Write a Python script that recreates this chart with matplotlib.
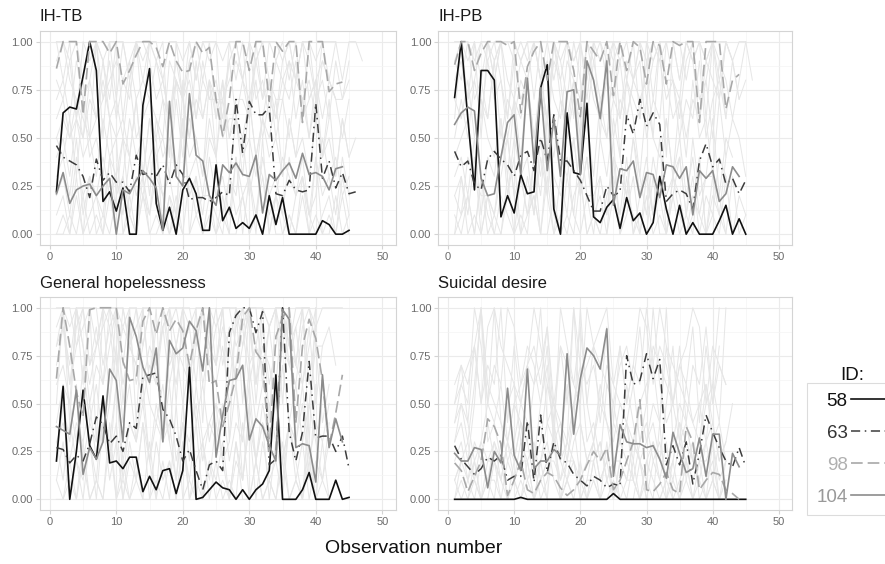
import matplotlib
matplotlib.use("Agg")
import matplotlib.pyplot as plt
from matplotlib.lines import Line2D
import numpy as np

plt.rcParams["font.family"] = ["Liberation Sans", "DejaVu Sans"]

# ── Highlighted participants ─────────────────────────────────────────────────
IDS = ["58", "63", "98", "104"]

TB_58 = [0.22, 0.63, 0.66, 0.65, 0.82, 1.0, 0.85, 0.17, 0.22, 0.12, 0.24, 0.0, 0.0, 0.67, 0.86,
         0.16, 0.02, 0.14, 0.0, 0.23, 0.29, 0.21, 0.02, 0.02, 0.36, 0.07, 0.14, 0.03, 0.06, 0.03,
         0.10, 0.0, 0.20, 0.05, 0.19, 0.0, 0.0, 0.0, 0.0, 0.0, 0.07, 0.05, 0.0, 0.0, 0.02]
TB_63 = [0.46, 0.40, 0.38, 0.36, 0.30, 0.19, 0.39, 0.28, 0.32, 0.27, 0.27, 0.22, 0.41, 0.31, 0.32,
         0.30, 0.36, 0.26, 0.36, 0.31, 0.18, 0.19, 0.19, 0.17, 0.19, 0.22, 0.20, 0.70, 0.42, 0.69,
         0.62, 0.62, 0.66, 0.21, 0.20, 0.28, 0.23, 0.22, 0.23, 0.68, 0.29, 0.38, 0.24, 0.32, 0.21, 0.22]
TB_98 = [0.86, 1.0, 1.0, 1.0, 0.62, 1.0, 1.0, 1.0, 0.94, 1.0, 0.78, 0.85, 0.93, 1.0, 1.0, 0.97,
         0.87, 1.0, 0.90, 0.84, 0.85, 1.0, 0.94, 0.97, 0.70, 0.51, 0.70, 1.0, 1.0, 0.85, 1.0, 1.0,
         0.69, 1.0, 0.95, 1.0, 1.0, 0.58, 1.0, 1.0, 1.0, 0.74, 0.78, 0.79]
TB_104 = [0.21, 0.32, 0.16, 0.23, 0.25, 0.26, 0.20, 0.25, 0.29, 0.0, 0.23, 0.21, 0.28, 0.33, 0.29,
          0.24, 0.02, 0.69, 0.30, 0.25, 0.73, 0.41, 0.38, 0.20, 0.15, 0.36, 0.32, 0.37, 0.31, 0.30,
          0.41, 0.11, 0.31, 0.28, 0.33, 0.37, 0.29, 0.42, 0.31, 0.32, 0.30, 0.23, 0.34, 0.35]

PB_58 = [0.71, 1.0, 0.60, 0.23, 0.85, 0.85, 0.80, 0.09, 0.20, 0.11, 0.31, 0.21, 0.22, 0.76, 0.88,
         0.13, 0.0, 0.63, 0.32, 0.31, 0.68, 0.09, 0.06, 0.14, 0.18, 0.03, 0.19, 0.07, 0.11, 0.0,
         0.06, 0.30, 0.13, 0.0, 0.15, 0.0, 0.06, 0.0, 0.0, 0.0, 0.07, 0.15, 0.0, 0.08, 0.0]
PB_63 = [0.43, 0.35, 0.38, 0.26, 0.23, 0.39, 0.43, 0.39, 0.36, 0.30, 0.41, 0.43, 0.33, 0.50, 0.38,
         0.62, 0.38, 0.38, 0.33, 0.28, 0.20, 0.12, 0.12, 0.25, 0.20, 0.22, 0.62, 0.52, 0.70, 0.56,
         0.63, 0.57, 0.17, 0.21, 0.23, 0.21, 0.13, 0.38, 0.47, 0.35, 0.39, 0.26, 0.29, 0.21, 0.28]
PB_98 = [0.88, 1.0, 1.0, 0.85, 0.94, 1.0, 1.0, 1.0, 0.98, 1.0, 0.63, 0.87, 0.95, 1.0, 0.80, 1.0,
         1.0, 1.0, 0.85, 0.61, 1.0, 0.95, 0.90, 1.0, 0.72, 1.0, 0.85, 1.0, 0.97, 0.78, 1.0, 0.98,
         0.78, 1.0, 0.98, 1.0, 1.0, 0.58, 1.0, 1.0, 1.0, 0.65, 0.80, 0.83]
PB_104 = [0.57, 0.63, 0.66, 0.64, 0.29, 0.20, 0.21, 0.40, 0.58, 0.62, 0.31, 0.81, 0.37, 0.76, 0.33,
          0.60, 0.30, 0.74, 0.75, 0.31, 0.90, 0.80, 0.60, 0.90, 0.15, 0.34, 0.33, 0.38, 0.19, 0.32,
          0.31, 0.19, 0.36, 0.35, 0.29, 0.35, 0.10, 0.33, 0.29, 0.33, 0.17, 0.21, 0.35, 0.30]

GH_58 = [0.20, 0.59, 0.0, 0.25, 0.57, 0.28, 0.21, 0.54, 0.19, 0.20, 0.16, 0.22, 0.22, 0.04, 0.12,
         0.05, 0.15, 0.16, 0.03, 0.15, 0.69, 0.0, 0.01, 0.05, 0.09, 0.06, 0.05, 0.0, 0.05, 0.0,
         0.05, 0.08, 0.15, 0.65, 0.0, 0.0, 0.0, 0.05, 0.14, 0.0, 0.0, 0.0, 0.10, 0.0, 0.01]
GH_63 = [0.27, 0.26, 0.19, 0.23, 0.20, 0.29, 0.43, 0.39, 0.29, 0.33, 0.25, 0.40, 0.37, 0.64, 0.65,
         0.66, 0.47, 0.42, 0.33, 0.20, 0.26, 0.15, 0.05, 0.18, 0.20, 0.15, 0.87, 0.96, 1.0, 1.0,
         0.87, 0.98, 0.18, 0.21, 1.0, 0.35, 0.20, 0.35, 0.72, 0.32, 0.33, 0.33, 0.25, 0.33, 0.16]
GH_98 = [0.63, 1.0, 0.80, 0.56, 0.43, 0.99, 1.0, 1.0, 1.0, 1.0, 0.72, 0.62, 0.63, 0.93, 1.0, 0.86,
         1.0, 0.88, 0.94, 0.88, 0.70, 0.88, 1.0, 0.60, 0.62, 0.38, 0.50, 0.64, 0.95, 1.0, 0.77,
         0.72, 0.25, 0.85, 0.95, 1.0, 0.40, 0.80, 0.94, 0.84, 0.62, 0.28, 0.45, 0.65]
GH_104 = [0.38, 0.36, 0.34, 0.57, 0.13, 0.27, 0.21, 0.30, 0.68, 0.62, 0.30, 0.95, 0.85, 0.69, 0.61,
          0.79, 0.30, 0.83, 0.76, 0.79, 0.93, 0.88, 0.67, 1.0, 0.22, 0.44, 0.62, 0.63, 0.70, 0.31,
          0.42, 0.38, 0.28, 0.20, 0.99, 0.94, 0.27, 0.29, 0.28, 0.09, 0.65, 0.27, 0.42, 0.30]

SD_58 = [0.0] * 10 + [0.01] + [0.0] * 13 + [0.03] + [0.0] * 20
SD_63 = [0.28, 0.21, 0.17, 0.13, 0.16, 0.22, 0.20, 0.23, 0.10, 0.12, 0.12, 0.41, 0.09, 0.44, 0.14,
         0.30, 0.21, 0.19, 0.13, 0.10, 0.07, 0.12, 0.10, 0.06, 0.08, 0.07, 0.75, 0.60, 0.62, 0.76,
         0.63, 0.73, 0.18, 0.28, 0.18, 0.30, 0.08, 0.24, 0.44, 0.35, 0.27, 0.20, 0.17, 0.27, 0.17]
SD_98 = [0.19, 0.15, 0.04, 0.12, 0.20, 0.42, 0.38, 0.29, 0.02, 0.10, 0.20, 0.05, 0.03, 0.10, 0.14,
         0.12, 0.06, 0.02, 0.05, 0.10, 0.18, 0.25, 0.20, 0.27, 0.05, 0.10, 0.20, 0.30, 0.52, 0.05,
         0.04, 0.08, 0.14, 0.05, 0.03, 0.38, 0.30, 0.05, 0.10, 0.14, 0.13, 0.05, 0.03, 0.0]
SD_104 = [0.24, 0.20, 0.20, 0.27, 0.26, 0.06, 0.25, 0.19, 0.58, 0.23, 0.15, 0.68, 0.16, 0.20, 0.20,
          0.26, 0.23, 0.76, 0.34, 0.63, 0.79, 0.75, 0.68, 0.89, 0.12, 0.39, 0.30, 0.29, 0.29, 0.27,
          0.28, 0.21, 0.11, 0.35, 0.24, 0.14, 0.16, 0.32, 0.12, 0.34, 0.34, 0.0, 0.24, 0.17]

# ── Other participants (grey background), one char per observation: 0-9 -> tenths, T -> 1.0
TB_OTHERS = [
    "879685T79687TT97868759687796879T8775878698779",
    "342513204351324502133425413252431243241253423",
    "675657686758567976875768685776857687967868757",
    "120301210231021320103122103120130210231012031",
    "TT9T8TT9TTT8T9TT8TT9T8TTT9TT8T9TTT9T8TT9TTT8TT9",
    "546374536254736453746538475637465736475847364",
    "001020102001020010200102010020102001020100201",
    "786978697T6978T986978697869T8697869T8T9786978",
    "4536453641364526453645364836453645364536453645",
    "231423242314231423162314231423142314231423142",
    "9T8765678989T87659879T8T67898T7869898T78987",
    "565758T96564736574859687756657468579685746",
    "010203014502030102080301020403050201030401020",
    "T8T6T9T5T7T8T6T9T4T7T8T9T5T8T6T7T9T8T6T7T8T",
]
PB_OTHERS = [
    "98T7869T8798T86T97T869T87968T79T8869T78T9868T",
    "231402135203142031524102314023150241302143021",
    "768576957687586T7685976857689576T85769578697",
    "012030102401203010230120401302010320140210301",
    "TTT9TT8TTT9TTTT8TT9TTTT9TT8TTT9TTTT8TT9TTT9TT8",
    "456375463748536475846375948637546374856374653",
    "8978T9786978T8976987T978T69878T9787T96987T978",
    "3425143625341526435241536425314263524136254",
    "6T7T5T8T6T9T7T4T8T6T7T5T9T8T6T7T4T8T9T6T7T",
    "102031021031204103102031502103120310210320",
    "575869T8576857698576T8657687695T8675768596",
    "214322145231426324152231432524132341523314",
    "9T9T8T9TT9T9T8TT9T9T8T9TT9T8T9T9TT8T9T9T8T9",
    "030102003010400201030100203010300201040103",
]
GH_OTHERS = [
    "897T8689T798T6879T8769T8798T96879T8769T8897",
    "314203152403142053140231420315240314205314",
    "675T8576T9687576T86958T76857T968758T76958",
    "102030104020103020501030201040201030102030",
    "TT9TTT8TTT9TT8TTT9TTT8TT9TTT8TTT9TT8TTT9TTTT",
    "465374635846375463857463548637465374635846",
    "8T69T78T96T87T69T78T96T87T69T78T96T87T69",
    "2536243526143625341526345236142536243516",
    "7968T7968T5968T7968T6968T7968T5968T7968T",
    "001020103010200102030102010300201020103010",
    "5T4T6T3T5T7T4T6T3T5T6T4T7T3T5T6T4T5T7T3T",
    "342435243624352436243524352436243524362435",
    "9TT89TT79TT89TT69TT89TT79TT89TT69TT89TT8",
    "130213041302140312031402130214031204130213",
]
SD_OTHERS = [
    "465T8576T9687573T86958476857T968758476958",
    "121021320132012312201312021320213012320132",
    "3425T3425634258342573426534253425834256342",
    "000100200010020001000200100020001002000100",
    "576859T8765786958765T876578695876578T95876",
    "231324213243124321342312432134231243213423",
    "6748576T4857679485T7675948576T748576948576",
    "010201030102010401020103010201040102010301",
    "354235T42354236423T4235423642354T3542364235",
    "122132213122312213212231221321322132122312",
    "4536T54635436T45364T5364354635T6453645364T",
    "023102310241023102410231024102310241023102",
    "5678T6543567T8654356789T6543567T87654356T",
    "101201102101201301201101201102101201301201",
]

PANELS = [
    ("IH-TB", TB_OTHERS, [TB_58, TB_63, TB_98, TB_104]),
    ("IH-PB", PB_OTHERS, [PB_58, PB_63, PB_98, PB_104]),
    ("General hopelessness", GH_OTHERS, [GH_58, GH_63, GH_98, GH_104]),
    ("Suicidal desire", SD_OTHERS, [SD_58, SD_63, SD_98, SD_104]),
]

# ── Style ─────────────────────────────────────────────────────────────────────
LINE_STYLES = [
    dict(color="#111111", linestyle="-", linewidth=1.2),
    dict(color="#3c3c3c", linestyle=(0, (6, 3, 1, 3)), linewidth=1.1),
    dict(color="#a8a8a8", linestyle=(0, (7, 3)), linewidth=1.2),
    dict(color="#8c8c8c", linestyle="-", linewidth=1.2),
]
TEXT_COLORS = ["#111111", "#333333", "#b0b0b0", "#999999"]
BG_LINE = "#e6e6e6"
GRID = "#ebebeb"
BORDER = "#d4d4d4"
TICK_COLOR = "#6b6b6b"

AX_POS = [
    [0.045, 0.566, 0.402, 0.379],
    [0.495, 0.566, 0.400, 0.379],
    [0.045, 0.096, 0.402, 0.377],
    [0.495, 0.096, 0.400, 0.377],
]


def decode(s):
    return [1.0 if c == "T" else int(c) / 10 for c in s]


fig = plt.figure(figsize=(8.85, 5.64), dpi=100)

for pos, (title, others, highlights) in zip(AX_POS, PANELS):
    ax = fig.add_axes(pos)
    for s in others:
        vals = decode(s)
        ax.plot(np.arange(1, len(vals) + 1), vals, color=BG_LINE, linewidth=0.7, zorder=1)
    for vals, style in zip(highlights, LINE_STYLES):
        ax.plot(np.arange(1, len(vals) + 1), vals, zorder=3, **style)

    ax.set_xlim(-1.5, 52)
    ax.set_ylim(-0.055, 1.055)
    ax.set_xticks([0, 10, 20, 30, 40, 50])
    ax.set_xticks([5, 15, 25, 35, 45], minor=True)
    ax.set_yticks([0, 0.25, 0.5, 0.75, 1.0])
    ax.set_yticklabels(["0.00", "0.25", "0.50", "0.75", "1.00"])
    ax.set_yticks([0.125, 0.375, 0.625, 0.875], minor=True)
    ax.grid(True, which="major", color=GRID, linewidth=0.8, zorder=0)
    ax.grid(True, which="minor", color="#f4f4f4", linewidth=0.5, zorder=0)
    ax.set_axisbelow(True)
    ax.tick_params(which="major", length=3, color=BORDER, labelsize=8, labelcolor=TICK_COLOR, pad=2)
    ax.tick_params(which="minor", length=0)
    for sp in ax.spines.values():
        sp.set_color(BORDER)
        sp.set_linewidth(0.8)
    ax.set_title(title, loc="left", fontsize=12, color="#1a1a1a", pad=7)

fig.text(0.467, 0.028, "Observation number", ha="center", va="center", fontsize=14, color="#111111")

# legend: title sits above the box, handles to the right of the labels
fig.text(852 / 885, 1 - 375 / 564, "ID:", ha="center", va="center", fontsize=13.5, color="#111111")
handles = [Line2D([], [], **st) for st in LINE_STYLES]
leg = fig.legend(
    handles, IDS, loc="upper left", bbox_to_anchor=(807 / 885, 1 - 383 / 564), borderaxespad=0,
    markerfirst=False, frameon=True, fontsize=13.5, handlelength=1.9, alignment="right",
    handletextpad=0.2, labelspacing=0.8, borderpad=0.5, fancybox=False,
)
leg.get_frame().set_edgecolor(BORDER)
leg.get_frame().set_linewidth(0.8)
for t, c in zip(leg.get_texts(), TEXT_COLORS):
    t.set_color(c)
    t.set_ha("right")

fig.savefig("out.png", dpi=100)
